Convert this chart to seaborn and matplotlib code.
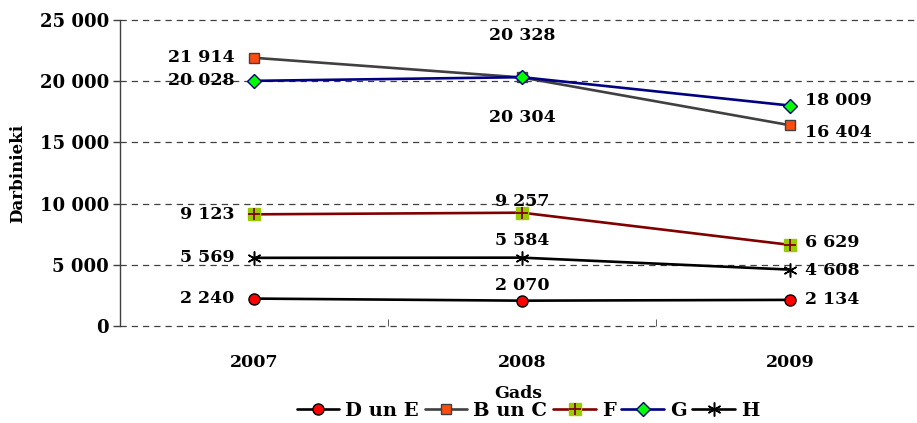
import matplotlib
matplotlib.use("Agg")
import matplotlib.pyplot as plt
import numpy as np
import pandas as pd
import seaborn as sns
from matplotlib.lines import Line2D
from matplotlib.ticker import FixedLocator

# dati
years = ["2007", "2008", "2009"]
series_names = ["D un E", "B un C", "F", "G", "H"]
d_un_e = [2240, 2070, 2134]
b_un_c = [21914, 20304, 16404]
f_vals = [9123, 9257, 6629]
g_vals = [20028, 20328, 18009]
h_vals = [5569, 5584, 4608]
y_ticks = [0, 5000, 10000, 15000, 20000, 25000]

values = {"D un E": d_un_e, "B un C": b_un_c, "F": f_vals, "G": g_vals, "H": h_vals}

df = pd.DataFrame(
    [(s, y, v) for s in series_names for y, v in zip(years, values[s])],
    columns=["series", "Gads", "Darbinieki"],
)

styles = {
    "D un E": dict(color="black", marker="o", ms=8, mfc="#ff0000", mec="black", mew=1.0),
    "B un C": dict(color="#404040", marker="s", ms=7.5, mfc="#ff4a10", mec="#404040", mew=1.0),
    "F": dict(color="#800000", marker="s", ms=8.5, mfc="#99cc00", mec="#99cc00", mew=1.0),
    "G": dict(color="#000080", marker="D", ms=7.5, mfc="#00ff00", mec="#000080", mew=1.0),
    "H": dict(color="black", marker=(6, 2, 0), ms=10, mfc="black", mec="black", mew=1.1),
}

# vertical label offsets in points for 2007, 2008, 2009
label_dy = {
    "D un E": (0, 11, 0),
    "B un C": (0, -29, -5),
    "F": (0, 8, 2),
    "G": (0, 30, 4),
    "H": (0, 12, -1),
}

sns.set_style("white")
plt.rcParams["font.family"] = ["DejaVu Serif"]
plt.rcParams["font.weight"] = "bold"
plt.rcParams["text.color"] = "black"
plt.rcParams["axes.labelcolor"] = "black"
plt.rcParams["xtick.color"] = "black"
plt.rcParams["ytick.color"] = "black"

fig = plt.figure(figsize=(9.17, 4.23), dpi=100)
ax = fig.add_axes([120 / 917, 1 - 326 / 423, 797 / 917, 306 / 423])

for s in series_names:
    st = styles[s]
    sub = df[df["series"] == s]
    sns.lineplot(data=sub, x="Gads", y="Darbinieki", ax=ax, sort=False, color=st["color"],
                 lw=1.9, marker=st["marker"], markersize=st["ms"], markerfacecolor=st["mfc"],
                 markeredgecolor=st["mec"], markeredgewidth=st["mew"], zorder=3)
    if s == "F":
        ax.plot(sub["Gads"], sub["Darbinieki"], ls="none", marker="+", ms=8, mew=1.3,
                color="#800000", zorder=4)

    for i, (yr, v) in enumerate(zip(years, values[s])):
        txt = f"{v:,}".replace(",", " ")
        dy = label_dy[s][i]
        if i == 0:
            xy, ha = (-14, dy), "right"
        elif i == 1:
            xy, ha = (0, dy), "center"
        else:
            xy, ha = (11, dy), "left"
        ax.annotate(txt, (i, v), xytext=xy, textcoords="offset points", ha=ha, va="center",
                    fontsize=12.5, fontweight="bold", color="black", zorder=5)

ax.set_xlim(-0.5, 2.474)
ax.set_ylim(0, 25000)
ax.yaxis.set_major_locator(FixedLocator(y_ticks))
ax.set_yticklabels([f"{t:,}".replace(",", " ") for t in y_ticks], fontsize=13, fontweight="bold")
ax.set_xticks(range(len(years)))
ax.set_xticklabels(years, fontsize=12.5, fontweight="bold")
ax.tick_params(axis="x", length=0, pad=20)
ax.tick_params(axis="y", length=5, width=1, direction="out", color="#404040", pad=3, left=True)
ax.set_xticks([0.5, 1.5], minor=True)
ax.tick_params(axis="x", which="minor", length=5, direction="in", color="#404040", bottom=True)

ax.grid(axis="y", color="#404040", ls=(0, (5, 4)), lw=0.9)
for gl in ax.get_ygridlines():
    gl.set_clip_on(False)
ax.grid(axis="x", visible=False)
for sp in ["top", "right", "bottom"]:
    ax.spines[sp].set_visible(False)
ax.spines["left"].set_color("#404040")
ax.spines["left"].set_linewidth(1.0)

ax.set_xlabel("Gads", fontsize=12.5, fontweight="bold", labelpad=10)
ax.set_ylabel("Darbinieki", fontsize=12, fontweight="bold", labelpad=10)

handles = []
for s in series_names:
    st = styles[s]
    h = Line2D([], [], color=st["color"], lw=1.9, marker=st["marker"], ms=st["ms"],
               mfc=st["mfc"], mec=st["mec"], mew=st["mew"])
    if s == "F":
        h = (h, Line2D([], [], ls="none", marker="+", ms=8, mew=1.3, color="#800000"))
    handles.append(h)

leg = fig.legend(handles, series_names, loc="center", bbox_to_anchor=(528 / 917, 1 - 411 / 423),
                 ncol=5, frameon=True, fancybox=False, edgecolor="white", facecolor="white",
                 framealpha=1, handlelength=2.2, handletextpad=0.3, columnspacing=0.3,
                 borderpad=0.1, prop={"size": 14, "weight": "bold"})

fig.savefig("out.png", dpi=100)
